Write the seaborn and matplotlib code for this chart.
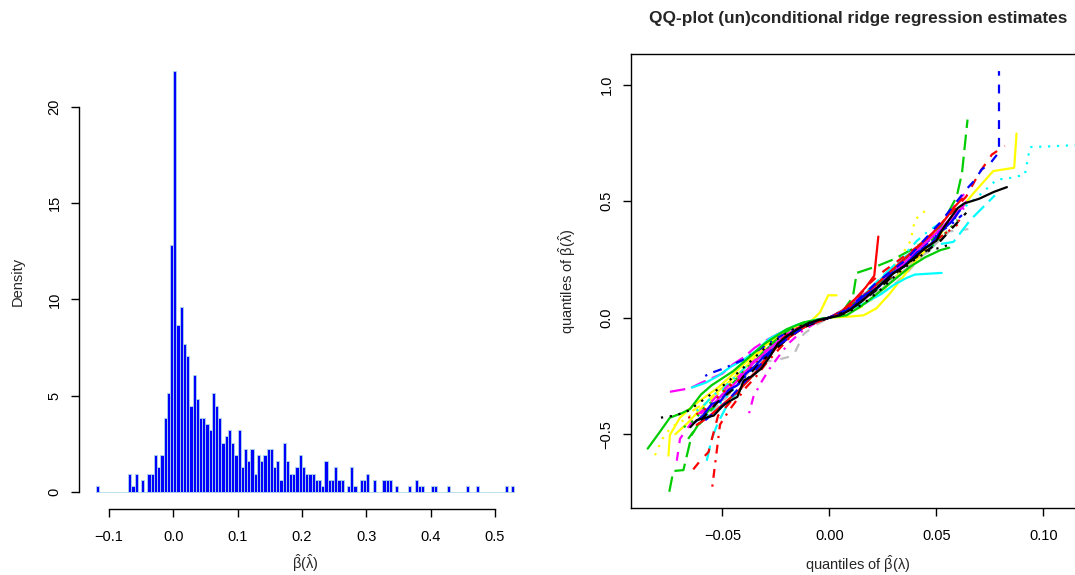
import numpy as np
import pandas as pd
import matplotlib
matplotlib.use("Agg")
import matplotlib.pyplot as plt
import seaborn as sns

# ---------------- histogram of beta-hat(lambda-hat) ----------------
bin_start = -0.12
bin_width = 0.005
bin_counts = [
    1, 0, 0, 0, 0, 0, 0, 0, 0, 0,
    3, 1, 3, 0, 2, 0, 3, 3, 6, 4,
    6, 12, 16, 40, 68, 27, 30, 24, 22, 14,
    19, 15, 12, 12, 11, 10, 16, 14, 12, 8,
    9, 10, 8, 6, 10, 4, 7, 5, 7, 3,
    6, 5, 6, 7, 7, 4, 5, 2, 8, 5,
    3, 3, 4, 6, 4, 3, 3, 3, 2, 2,
    1, 5, 2, 2, 4, 2, 2, 0, 1, 4,
    1, 0, 2, 2, 3, 0, 2, 0, 0, 2,
    2, 2, 0, 1, 0, 0, 0, 1, 0, 2,
    1, 1, 0, 0, 1, 1, 0, 0, 0, 1,
    0, 0, 0, 0, 0, 1, 0, 0, 1, 0,
    0, 0, 0, 0, 0, 0, 0, 1, 0, 1,
]
hist_xticks = [-0.1, 0.0, 0.1, 0.2, 0.3, 0.4, 0.5]
hist_yticks = [0, 5, 10, 15, 20]
qq_xticks = [-0.05, 0.0, 0.05, 0.10]
qq_xlabels = ["\u22120.05", "0.00", "0.05", "0.10"]
qq_yticks = [-0.5, 0.0, 0.5, 1.0]
qq_ylabels = ["\u22120.5", "0.0", "0.5", "1.0"]

# ---------------- QQ lines ----------------
black_x = [-0.065, -0.062, -0.058, -0.054, -0.050, -0.047, -0.043, -0.040, -0.036, -0.032, -0.028, -0.024,
           -0.020, -0.015, -0.010, -0.005, 0.0, 0.005, 0.010, 0.015, 0.020, 0.025, 0.030, 0.035, 0.040,
           0.045, 0.050, 0.053, 0.056, 0.060, 0.063, 0.070, 0.077, 0.083]
black_y = [-0.47, -0.44, -0.43, -0.42, -0.38, -0.36, -0.34, -0.27, -0.25, -0.22, -0.17, -0.11,
           -0.08, -0.05, -0.025, -0.010, 0.0, 0.01, 0.035, 0.07, 0.11, 0.15, 0.19, 0.22, 0.26,
           0.30, 0.33, 0.38, 0.42, 0.47, 0.49, 0.51, 0.54, 0.56]

red_dash_x = [-0.0636, -0.060, -0.0565, -0.052, -0.047, -0.042, -0.037, -0.032, -0.027, -0.022, -0.016,
              -0.008, 0.0, 0.006, 0.012, 0.018, 0.024, 0.030, 0.036, 0.042, 0.048, 0.053, 0.058, 0.064,
              0.070, 0.076, 0.082]
red_dash_y = [-0.651, -0.61, -0.577, -0.42, -0.37, -0.31, -0.26, -0.20, -0.15, -0.09, -0.05,
              -0.02, 0.0, 0.02, 0.07, 0.14, 0.19, 0.23, 0.27, 0.31, 0.36, 0.41, 0.46, 0.52,
              0.62, 0.70, 0.737]

green_x = [-0.0849, -0.080, -0.0745, -0.069, -0.0651, -0.060, -0.055, -0.050, -0.045, -0.040, -0.035,
           -0.030, -0.025, -0.020, -0.012, 0.0, 0.008, 0.015, 0.022, 0.030, 0.038, 0.045, 0.052, 0.056]
green_y = [-0.562, -0.50, -0.429, -0.41, -0.392, -0.33, -0.29, -0.26, -0.23, -0.19, -0.15,
           -0.11, -0.08, -0.05, -0.02, 0.0, 0.01, 0.05, 0.10, 0.16, 0.22, 0.26, 0.29, 0.30]

blue_dash_x = [-0.058, -0.054, -0.050, -0.046, -0.041, -0.036, -0.031, -0.026, -0.021, -0.015, -0.008,
               0.0, 0.008, 0.015, 0.022, 0.029, 0.036, 0.042, 0.047, 0.052, 0.058, 0.064, 0.068,
               0.0712, 0.075, 0.0793, 0.0793]
blue_dash_y = [-0.44, -0.41, -0.38, -0.34, -0.29, -0.24, -0.19, -0.13, -0.10, -0.06, -0.02,
               0.0, 0.03, 0.09, 0.15, 0.20, 0.25, 0.31, 0.36, 0.41, 0.48, 0.55, 0.59,
               0.636, 0.66, 0.71, 1.058]

cyan_dot_x = [-0.060, -0.055, -0.050, -0.045, -0.040, -0.035, -0.030, -0.025, -0.020, -0.012, 0.0,
              0.010, 0.020, 0.030, 0.040, 0.050, 0.058, 0.0673, 0.072, 0.0782, 0.085, 0.0914, 0.0938,
              0.103, 0.119]
cyan_dot_y = [-0.45, -0.40, -0.36, -0.31, -0.26, -0.21, -0.16, -0.11, -0.07, -0.03, 0.0,
              0.04, 0.12, 0.20, 0.28, 0.36, 0.44, 0.503, 0.54, 0.592, 0.60, 0.614, 0.732,
              0.735, 0.742]

magenta_ld_x = [-0.0745, -0.0651, -0.060, -0.055, -0.050, -0.045, -0.040, -0.035, -0.030, -0.024,
                -0.016, -0.008, 0.0, 0.008, 0.016, 0.024, 0.032, 0.040, 0.047, 0.054, 0.060, 0.063]
magenta_ld_y = [-0.318, -0.303, -0.28, -0.26, -0.24, -0.20, -0.17, -0.13, -0.10, -0.07,
                -0.04, -0.015, 0.0, 0.03, 0.09, 0.16, 0.23, 0.29, 0.35, 0.42, 0.50, 0.53]

yellow_x = [-0.072, -0.066, -0.060, -0.055, -0.050, -0.045, -0.040, -0.035, -0.030, -0.025, -0.018,
            -0.010, 0.0, 0.010, 0.016, 0.022, 0.028, 0.034, 0.040, 0.046, 0.052, 0.058, 0.0673,
            0.0766, 0.0864, 0.0875]
yellow_y = [-0.50, -0.45, -0.39, -0.34, -0.30, -0.26, -0.22, -0.17, -0.12, -0.09, -0.05,
            -0.02, 0.0, 0.005, 0.01, 0.04, 0.10, 0.17, 0.24, 0.30, 0.36, 0.43, 0.533,
            0.629, 0.643, 0.79]

yellow_b_x = [-0.0752, -0.0745, -0.0698, -0.064, -0.058, -0.052, -0.046, -0.040, -0.034, -0.028,
              -0.022, -0.015, -0.008, -0.0044, -0.0005, 0.0034]
yellow_b_y = [-0.592, -0.503, -0.429, -0.38, -0.34, -0.30, -0.25, -0.20, -0.15, -0.10,
              -0.07, -0.04, -0.01, 0.022, 0.096, 0.096]

gray_dash_x = [-0.055, -0.050, -0.045, -0.040, -0.035, -0.030, -0.023, -0.0168, -0.012, -0.006, 0.0,
               0.008, 0.015, 0.022, 0.030, 0.037, 0.044, 0.050, 0.056, 0.065]
gray_dash_y = [-0.40, -0.36, -0.31, -0.25, -0.21, -0.19, -0.178, -0.163, -0.07, -0.03, 0.0,
               0.02, 0.05, 0.09, 0.14, 0.20, 0.27, 0.32, 0.37, 0.38]

gray_x = [-0.060, -0.056, -0.053, -0.049, -0.045, -0.041, -0.037, -0.033, -0.029, -0.025, -0.020,
          -0.014, -0.007, 0.0, 0.006, 0.012, 0.018, 0.024, 0.030, 0.036, 0.041, 0.046, 0.051, 0.055]
gray_y = [-0.42, -0.40, -0.36, -0.35, -0.30, -0.28, -0.22, -0.20, -0.15, -0.13, -0.08,
          -0.05, -0.02, 0.0, 0.015, 0.04, 0.09, 0.12, 0.17, 0.21, 0.26, 0.28, 0.33, 0.36]

green_ld_x = [-0.0748, -0.0729, -0.0682, -0.0643, -0.060, -0.055, -0.050, -0.045, -0.040, -0.035,
              -0.030, -0.025, -0.020, -0.012, -0.005, 0.005, 0.011, 0.0128, 0.022, 0.030, 0.038,
              0.045, 0.052, 0.0595, 0.062, 0.0646]
green_ld_y = [-0.747, -0.658, -0.654, -0.503, -0.44, -0.38, -0.33, -0.28, -0.23, -0.19,
              -0.14, -0.10, -0.07, -0.03, -0.01, 0.01, 0.089, 0.192, 0.22, 0.25, 0.29,
              0.33, 0.39, 0.518, 0.62, 0.85]

green_dot_x = [-0.068, -0.063, -0.058, -0.053, -0.048, -0.043, -0.038, -0.033, -0.028, -0.023,
               -0.017, -0.010, 0.0, 0.008, 0.015, 0.022, 0.029, 0.036, 0.043, 0.050, 0.056, 0.060]
green_dot_y = [-0.47, -0.44, -0.38, -0.35, -0.30, -0.26, -0.21, -0.18, -0.13, -0.10,
               -0.06, -0.03, 0.0, 0.03, 0.07, 0.12, 0.17, 0.23, 0.28, 0.32, 0.38, 0.42]

red_dd_x = [-0.0547, -0.0511, -0.047, -0.043, -0.039, -0.034, -0.029, -0.024, -0.019, -0.012, -0.005,
            0.0, 0.007, 0.014, 0.020, 0.027, 0.034, 0.041, 0.048, 0.054, 0.060]
red_dd_y = [-0.725, -0.459, -0.40, -0.35, -0.30, -0.25, -0.19, -0.14, -0.09, -0.04, -0.015,
            0.0, 0.03, 0.08, 0.13, 0.18, 0.22, 0.27, 0.32, 0.36, 0.40]

red_dot_x = [-0.066, -0.061, -0.056, -0.051, -0.046, -0.041, -0.036, -0.031, -0.026, -0.021, -0.015,
             -0.008, 0.0, 0.007, 0.014, 0.021, 0.028, 0.035, 0.042, 0.048, 0.054, 0.059, 0.063]
red_dot_y = [-0.43, -0.41, -0.38, -0.33, -0.29, -0.26, -0.21, -0.17, -0.13, -0.09, -0.05,
             -0.02, 0.0, 0.02, 0.06, 0.12, 0.17, 0.22, 0.27, 0.32, 0.36, 0.40, 0.44]

cyan_x = [-0.0643, -0.058, -0.052, -0.046, -0.040, -0.034, -0.028, -0.022, -0.015, -0.007, 0.0,
          0.008, 0.016, 0.024, 0.030, 0.036, 0.040, 0.0525]
cyan_y = [-0.30, -0.28, -0.25, -0.21, -0.18, -0.14, -0.09, -0.06, -0.03, -0.01, 0.0,
          0.03, 0.06, 0.10, 0.14, 0.17, 0.185, 0.192]

cyan_ld_x = [-0.0573, -0.055, -0.052, -0.048, -0.043, -0.038, -0.033, -0.028, -0.023, -0.017, -0.010,
             0.0, 0.008, 0.016, 0.024, 0.032, 0.040, 0.048, 0.058, 0.066, 0.0774]
cyan_ld_y = [-0.614, -0.52, -0.45, -0.38, -0.32, -0.27, -0.22, -0.16, -0.11, -0.07, -0.03,
             0.0, 0.04, 0.10, 0.17, 0.24, 0.29, 0.31, 0.325, 0.42, 0.525]

cyan_dd_x = [-0.062, -0.058, -0.054, -0.050, -0.046, -0.042, -0.038, -0.034, -0.030, -0.025, -0.020,
             -0.013, -0.006, 0.0, 0.007, 0.014, 0.021, 0.028, 0.035, 0.041, 0.046, 0.051]
cyan_dd_y = [-0.40, -0.37, -0.33, -0.31, -0.27, -0.24, -0.20, -0.18, -0.14, -0.11, -0.07,
             -0.04, -0.015, 0.0, 0.03, 0.08, 0.14, 0.20, 0.27, 0.33, 0.37, 0.40]

magenta_dash_x = [-0.0713, -0.0698, -0.066, -0.062, -0.057, -0.052, -0.047, -0.042, -0.037, -0.032,
                  -0.027, -0.021, -0.014, -0.006, 0.0, 0.007, 0.014, 0.021, 0.028, 0.035, 0.042,
                  0.049, 0.055, 0.060, 0.064]
magenta_dash_y = [-0.614, -0.52, -0.47, -0.42, -0.38, -0.33, -0.29, -0.25, -0.20, -0.16,
                  -0.12, -0.08, -0.04, -0.015, 0.0, 0.025, 0.07, 0.12, 0.18, 0.24, 0.30,
                  0.35, 0.40, 0.44, 0.50]

magenta_dd_x = [-0.0375, -0.0355, -0.032, -0.028, -0.024, -0.019, -0.013, -0.006, 0.0, 0.006, 0.012,
                0.019, 0.026, 0.033, 0.040, 0.046, 0.052, 0.058, 0.063]
magenta_dd_y = [-0.41, -0.34, -0.28, -0.22, -0.17, -0.11, -0.06, -0.02, 0.0, 0.03, 0.07,
                0.12, 0.17, 0.23, 0.29, 0.34, 0.38, 0.43, 0.47]

blue_dd_x = [-0.058, -0.056, -0.050, -0.045, -0.040, -0.035, -0.030, -0.025, -0.019, -0.012, -0.005,
             0.0, 0.006, 0.012, 0.018, 0.025, 0.032, 0.039, 0.046, 0.052, 0.057, 0.062]
blue_dd_y = [-0.25, -0.24, -0.22, -0.20, -0.18, -0.15, -0.12, -0.09, -0.06, -0.03, -0.01,
             0.0, 0.03, 0.06, 0.10, 0.15, 0.20, 0.26, 0.32, 0.37, 0.40, 0.44]

blue_x = [-0.063, -0.059, -0.055, -0.051, -0.047, -0.043, -0.039, -0.035, -0.031, -0.027, -0.022,
          -0.017, -0.011, -0.005, 0.0, 0.005, 0.011, 0.017, 0.023, 0.029, 0.035, 0.041, 0.047,
          0.052, 0.057, 0.061]
blue_y = [-0.45, -0.42, -0.37, -0.36, -0.31, -0.29, -0.24, -0.21, -0.17, -0.14, -0.10,
          -0.06, -0.03, -0.01, 0.0, 0.02, 0.05, 0.10, 0.13, 0.19, 0.22, 0.28, 0.31,
          0.37, 0.41, 0.46]

blue_dot_x = [-0.052, -0.048, -0.044, -0.040, -0.036, -0.032, -0.028, -0.024, -0.019, -0.013, -0.006,
              0.0, 0.007, 0.014, 0.021, 0.028, 0.035, 0.042, 0.048, 0.054, 0.059]
blue_dot_y = [-0.36, -0.32, -0.30, -0.26, -0.22, -0.19, -0.15, -0.12, -0.08, -0.04, -0.015,
              0.0, 0.03, 0.07, 0.12, 0.18, 0.24, 0.30, 0.34, 0.39, 0.43]

black_dot_x = [-0.0787, -0.072, -0.066, -0.060, -0.054, -0.048, -0.042, -0.036, -0.030, -0.024,
               -0.017, -0.009, 0.0, 0.008, 0.016, 0.024, 0.032, 0.040, 0.047, 0.052, 0.055]
black_dot_y = [-0.429, -0.42, -0.40, -0.36, -0.32, -0.28, -0.23, -0.18, -0.13, -0.09,
               -0.05, -0.02, 0.0, 0.02, 0.06, 0.12, 0.19, 0.25, 0.29, 0.30, 0.31]

black_dash_x = [-0.060, -0.056, -0.052, -0.048, -0.044, -0.040, -0.036, -0.032, -0.027, -0.022, -0.016,
                -0.009, 0.0, 0.006, 0.012, 0.018, 0.025, 0.032, 0.039, 0.046, 0.052, 0.058, 0.064]
black_dash_y = [-0.44, -0.40, -0.36, -0.33, -0.30, -0.25, -0.23, -0.19, -0.15, -0.11, -0.06,
                -0.03, 0.0, 0.02, 0.05, 0.09, 0.14, 0.20, 0.25, 0.29, 0.33, 0.39, 0.45]

yellow_dot_x = [-0.0815, -0.078, -0.074, -0.068, -0.062, -0.056, -0.050, -0.044, -0.038, -0.032,
                -0.026, -0.020, -0.012, -0.005, 0.0, 0.008, 0.016, 0.024, 0.032, 0.038, 0.040, 0.045]
yellow_dot_y = [-0.59, -0.52, -0.47, -0.44, -0.40, -0.36, -0.31, -0.26, -0.21, -0.16,
                -0.12, -0.08, -0.04, -0.01, 0.0, 0.03, 0.09, 0.16, 0.24, 0.33, 0.42, 0.46]

yellow_dash_x = [-0.064, -0.059, -0.054, -0.049, -0.044, -0.039, -0.034, -0.029, -0.024, -0.018,
                 -0.011, 0.0, 0.008, 0.016, 0.024, 0.032, 0.040, 0.046, 0.050]
yellow_dash_y = [-0.40, -0.37, -0.34, -0.31, -0.27, -0.22, -0.17, -0.12, -0.08, -0.05,
                 -0.02, 0.0, 0.02, 0.05, 0.11, 0.18, 0.26, 0.33, 0.38]

red_x = [-0.062, -0.057, -0.052, -0.047, -0.042, -0.037, -0.032, -0.027, -0.022, -0.016, -0.009,
         0.0, 0.006, 0.012, 0.018, 0.024, 0.030, 0.036, 0.042, 0.048, 0.054, 0.058, 0.062]
red_y = [-0.46, -0.43, -0.39, -0.35, -0.31, -0.26, -0.21, -0.15, -0.10, -0.06, -0.03,
         0.0, 0.02, 0.06, 0.11, 0.16, 0.21, 0.26, 0.31, 0.36, 0.42, 0.47, 0.51]

green_dash_x = [-0.066, -0.062, -0.058, -0.053, -0.048, -0.043, -0.038, -0.033, -0.028, -0.023,
                -0.017, -0.010, -0.004, 0.0, 0.007, 0.014, 0.021, 0.028, 0.035, 0.042, 0.049, 0.055]
green_dash_y = [-0.52, -0.47, -0.43, -0.37, -0.31, -0.27, -0.22, -0.17, -0.12, -0.08,
                -0.04, -0.02, -0.005, 0.0, 0.03, 0.08, 0.13, 0.19, 0.24, 0.30, 0.34, 0.37]

magenta_x = [-0.060, -0.055, -0.050, -0.045, -0.040, -0.035, -0.030, -0.025, -0.020, -0.013, -0.006,
             0.0, 0.006, 0.012, 0.019, 0.026, 0.033, 0.040, 0.046, 0.052, 0.058, 0.062]
magenta_y = [-0.41, -0.38, -0.33, -0.29, -0.24, -0.19, -0.15, -0.11, -0.07, -0.04, -0.015,
             0.0, 0.02, 0.05, 0.10, 0.16, 0.22, 0.28, 0.33, 0.38, 0.44, 0.47]

red_short_x = [-0.035, -0.030, -0.025, -0.018, -0.010, 0.0, 0.006, 0.012, 0.017, 0.021, 0.0229]
red_short_y = [-0.24, -0.19, -0.13, -0.08, -0.03, 0.0, 0.03, 0.08, 0.13, 0.18, 0.348]

qq_lines = {
    "gray_dash": (gray_dash_x, gray_dash_y),
    "gray": (gray_x, gray_y),
    "yellow_dot": (yellow_dot_x, yellow_dot_y),
    "cyan_dot": (cyan_dot_x, cyan_dot_y),
    "magenta_ld": (magenta_ld_x, magenta_ld_y),
    "green_ld": (green_ld_x, green_ld_y),
    "red_dd": (red_dd_x, red_dd_y),
    "yellow": (yellow_x, yellow_y),
    "yellow_b": (yellow_b_x, yellow_b_y),
    "yellow_dash": (yellow_dash_x, yellow_dash_y),
    "cyan": (cyan_x, cyan_y),
    "cyan_ld": (cyan_ld_x, cyan_ld_y),
    "cyan_dd": (cyan_dd_x, cyan_dd_y),
    "magenta_dash": (magenta_dash_x, magenta_dash_y),
    "magenta_dd": (magenta_dd_x, magenta_dd_y),
    "green_dot": (green_dot_x, green_dot_y),
    "blue_dd": (blue_dd_x, blue_dd_y),
    "blue_dot": (blue_dot_x, blue_dot_y),
    "green_dash": (green_dash_x, green_dash_y),
    "magenta": (magenta_x, magenta_y),
    "red_dot": (red_dot_x, red_dot_y),
    "red": (red_x, red_y),
    "red_short": (red_short_x, red_short_y),
    "blue": (blue_x, blue_y),
    "green": (green_x, green_y),
    "black_dot": (black_dot_x, black_dot_y),
    "black_dash": (black_dash_x, black_dash_y),
    "red_dash": (red_dash_x, red_dash_y),
    "blue_dash": (blue_dash_x, blue_dash_y),
    "black": (black_x, black_y),
}

# R palette colours and lty patterns
R_COL = {"black": "black", "red": "#FF0000", "green": "#00CD00", "blue": "#0000FF",
         "cyan": "#00FFFF", "magenta": "#FF00FF", "yellow": "#FFFF00", "gray": "#BEBEBE"}
R_LTY = {"solid": "", "dash": (4, 4), "dot": (1, 3), "dd": (1, 3, 4, 3), "ld": (7, 3)}


def style_of(name):
    parts = name.split("_")
    col = R_COL[parts[0]]
    lty = "solid"
    if len(parts) > 1 and parts[1] in R_LTY:
        lty = parts[1]
    return col, R_LTY[lty]


def run_plot():
    sns.set_style("white")
    plt.rcParams["font.family"] = ["Liberation Sans", "DejaVu Sans"]
    plt.rcParams["mathtext.fontset"] = "custom"
    plt.rcParams["mathtext.rm"] = "Liberation Sans"
    plt.rcParams["mathtext.it"] = "Liberation Sans:italic"
    plt.rcParams["axes.unicode_minus"] = True
    fs = 10.5

    fig = plt.figure(figsize=(10.75, 5.75), dpi=100)
    W, H = 1075, 575

    # ================= left: histogram =================
    ax1 = fig.add_axes([79 / W, (H - 509) / H, (531 - 79) / W, (509 - 54) / H])
    nb = len(bin_counts)
    centers = bin_start + bin_width * (np.arange(nb) + 0.5)
    hist_df = pd.DataFrame({"center": centers, "count": np.array(bin_counts, dtype=float)})
    sns.histplot(data=hist_df, x="center", weights="count", bins=nb,
                 binrange=(bin_start, bin_start + bin_width * nb), stat="density", ax=ax1,
                 color="#0000FF", edgecolor="#ADD8E6", linewidth=0.6, alpha=1)
    ax1.set_xlim(-0.1464, 0.556)
    ax1.set_ylim(-0.874, 22.73)
    for s in ["top", "right"]:
        ax1.spines[s].set_visible(False)
    ax1.spines["bottom"].set_bounds(-0.1, 0.5)
    ax1.spines["left"].set_bounds(0, 20)
    ax1.set_xticks(hist_xticks)
    ax1.set_xticklabels([f"{v:.1f}".replace("-", "\u2212") for v in hist_xticks])
    ax1.set_yticks(hist_yticks)
    ax1.set_yticklabels([str(v) for v in hist_yticks], rotation=90, va="center")
    ax1.set_xlabel(r"$\hat{\mathrm{\beta}}(\hat{\mathrm{\lambda}})$", fontsize=fs, va="center")
    ax1.set_ylabel("Density", fontsize=fs, va="center")
    ax1.xaxis.set_label_coords(0.5, -(563 - 509) / 455)
    ax1.yaxis.set_label_coords((18 - 79) / 452, 0.5)

    # ================= right: QQ plot =================
    ax2 = fig.add_axes([631 / W, (H - 508.3) / H, 454 / W, 454 / H])
    rows = []
    for name, (xs, ys) in qq_lines.items():
        for k, (xv, yv) in enumerate(zip(xs, ys)):
            rows.append({"line": name, "x": xv, "y": yv, "k": k})
    df = pd.DataFrame(rows)
    names = list(qq_lines.keys())
    pal = {n: style_of(n)[0] for n in names}
    dashes = {n: style_of(n)[1] for n in names}
    sns.lineplot(data=df, x="x", y="y", hue="line", style="line", hue_order=names,
                 style_order=names, palette=pal, dashes=dashes, sort=False,
                 estimator=None, legend=False, linewidth=1.6, ax=ax2)
    ax2.set_xlim(-0.0927, 0.1195)
    ax2.set_ylim(-0.818, 1.13)
    ax2.set_xticks(qq_xticks)
    ax2.set_xticklabels(qq_xlabels)
    ax2.set_yticks(qq_yticks)
    ax2.set_yticklabels(qq_ylabels, rotation=90, va="center")
    ax2.set_xlabel(r"quantiles of $\hat{\mathrm{\beta}}(\mathrm{\lambda})$", fontsize=fs, va="center")
    ax2.set_ylabel(r"quantiles of $\hat{\mathrm{\beta}}(\hat{\mathrm{\lambda}})$", fontsize=fs, va="center")
    ax2.xaxis.set_label_coords(0.5, -(564 - 508.3) / 454)
    ax2.yaxis.set_label_coords((567 - 631) / 454, 0.5)
    for s in ax2.spines.values():
        s.set_color("black")
        s.set_linewidth(1.0)

    for ax in (ax1, ax2):
        ax.tick_params(axis="both", direction="out", length=6, width=1.0,
                       labelsize=fs, colors="black", left=True, bottom=True)
        ax.tick_params(axis="x", pad=9)
        ax.tick_params(axis="y", pad=6.5)
        for s in ["left", "bottom"]:
            ax.spines[s].set_color("black")
            ax.spines[s].set_linewidth(1.0)

    fig.text(858 / W, 1 - 22.5 / H, "QQ-plot (un)conditional ridge regression estimates",
             ha="center", va="baseline", fontsize=12.4, fontweight="bold")

    fig.savefig("out.png", dpi=100)
    plt.close(fig)


if __name__ == "__main__":
    run_plot()
